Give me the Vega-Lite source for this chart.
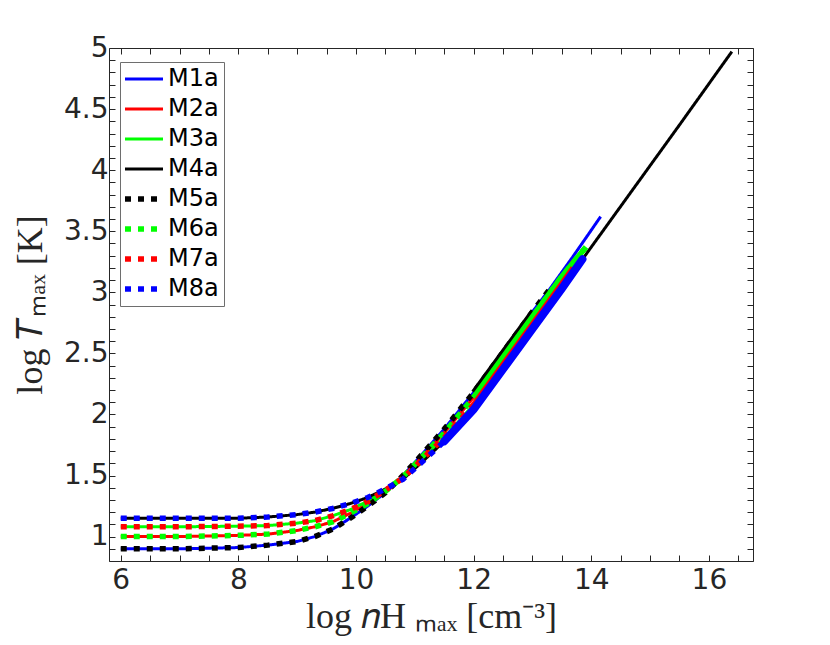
{
  "$schema": "https://vega.github.io/schema/vega-lite/v6.json",
  "width": 644,
  "height": 513,
  "autosize": "none",
  "padding": {"left": 109, "top": 48, "right": 77, "bottom": 84},
  "background": "white",
  "config": {
    "view": {"stroke": null},
    "axis": {
      "grid": false,
      "domainColor": "#262626",
      "domainWidth": 1,
      "tickColor": "#262626",
      "tickWidth": 1,
      "tickSize": -6,
      "labelFont": "DejaVu Sans",
      "labelFontSize": 28,
      "labelColor": "#262626",
      "labelFlush": false,
      "labelOverlap": false,
      "titleFont": "Liberation Serif",
      "titleFontSize": 36,
      "titleFontWeight": "normal",
      "titleColor": "#262626"
    }
  },
  "data": {
    "values": [
      {"model": "M1a", "logn": 6.0, "logT": 0.90}, {"model": "M1a", "logn": 6.5, "logT": 0.90}, {"model": "M1a", "logn": 7.0, "logT": 0.90}, {"model": "M1a", "logn": 7.5, "logT": 0.905}, {"model": "M1a", "logn": 8.0, "logT": 0.91}, {"model": "M1a", "logn": 8.5, "logT": 0.93}, {"model": "M1a", "logn": 9.0, "logT": 0.96}, {"model": "M1a", "logn": 9.3, "logT": 1.00}, {"model": "M1a", "logn": 9.6, "logT": 1.06}, {"model": "M1a", "logn": 9.9, "logT": 1.15}, {"model": "M1a", "logn": 10.2, "logT": 1.25}, {"model": "M1a", "logn": 10.5, "logT": 1.36}, {"model": "M1a", "logn": 10.8, "logT": 1.50}, {"model": "M1a", "logn": 11.1, "logT": 1.66}, {"model": "M1a", "logn": 11.5, "logT": 1.88}, {"model": "M1a", "logn": 12.0, "logT": 2.18}, {"model": "M1a", "logn": 12.5, "logT": 2.51}, {"model": "M1a", "logn": 13.0, "logT": 2.84}, {"model": "M1a", "logn": 13.3, "logT": 3.03}, {"model": "M1a", "logn": 13.7, "logT": 3.30}, {"model": "M1a", "logn": 14.16, "logT": 3.62},

      {"model": "M2a", "logn": 6.0, "logT": 1.00}, {"model": "M2a", "logn": 7.0, "logT": 1.00}, {"model": "M2a", "logn": 8.0, "logT": 1.01}, {"model": "M2a", "logn": 8.5, "logT": 1.02}, {"model": "M2a", "logn": 9.0, "logT": 1.05}, {"model": "M2a", "logn": 9.3, "logT": 1.08}, {"model": "M2a", "logn": 9.6, "logT": 1.12}, {"model": "M2a", "logn": 9.9, "logT": 1.19}, {"model": "M2a", "logn": 10.2, "logT": 1.27}, {"model": "M2a", "logn": 10.5, "logT": 1.37}, {"model": "M2a", "logn": 10.8, "logT": 1.49}, {"model": "M2a", "logn": 11.1, "logT": 1.64}, {"model": "M2a", "logn": 11.5, "logT": 1.85}, {"model": "M2a", "logn": 12.0, "logT": 2.14}, {"model": "M2a", "logn": 12.5, "logT": 2.47}, {"model": "M2a", "logn": 13.0, "logT": 2.80}, {"model": "M2a", "logn": 13.5, "logT": 3.13}, {"model": "M2a", "logn": 13.69, "logT": 3.26},

      {"model": "M3a", "logn": 6.0, "logT": 1.08}, {"model": "M3a", "logn": 7.0, "logT": 1.08}, {"model": "M3a", "logn": 8.0, "logT": 1.085}, {"model": "M3a", "logn": 8.5, "logT": 1.09}, {"model": "M3a", "logn": 9.0, "logT": 1.11}, {"model": "M3a", "logn": 9.3, "logT": 1.13}, {"model": "M3a", "logn": 9.6, "logT": 1.17}, {"model": "M3a", "logn": 9.9, "logT": 1.22}, {"model": "M3a", "logn": 10.2, "logT": 1.29}, {"model": "M3a", "logn": 10.5, "logT": 1.38}, {"model": "M3a", "logn": 10.8, "logT": 1.48}, {"model": "M3a", "logn": 11.1, "logT": 1.62}, {"model": "M3a", "logn": 11.5, "logT": 1.81}, {"model": "M3a", "logn": 12.0, "logT": 2.08}, {"model": "M3a", "logn": 12.5, "logT": 2.41}, {"model": "M3a", "logn": 13.0, "logT": 2.74}, {"model": "M3a", "logn": 13.5, "logT": 3.07}, {"model": "M3a", "logn": 13.75, "logT": 3.24},

      {"model": "M4a", "logn": 6.0, "logT": 1.15}, {"model": "M4a", "logn": 7.0, "logT": 1.15}, {"model": "M4a", "logn": 8.0, "logT": 1.15}, {"model": "M4a", "logn": 8.5, "logT": 1.16}, {"model": "M4a", "logn": 9.0, "logT": 1.18}, {"model": "M4a", "logn": 9.3, "logT": 1.20}, {"model": "M4a", "logn": 9.6, "logT": 1.23}, {"model": "M4a", "logn": 9.9, "logT": 1.27}, {"model": "M4a", "logn": 10.2, "logT": 1.32}, {"model": "M4a", "logn": 10.5, "logT": 1.39}, {"model": "M4a", "logn": 10.8, "logT": 1.47}, {"model": "M4a", "logn": 11.1, "logT": 1.60}, {"model": "M4a", "logn": 11.5, "logT": 1.78}, {"model": "M4a", "logn": 12.0, "logT": 2.04}, {"model": "M4a", "logn": 12.5, "logT": 2.37}, {"model": "M4a", "logn": 13.0, "logT": 2.70}, {"model": "M4a", "logn": 13.5, "logT": 3.03}, {"model": "M4a", "logn": 13.85, "logT": 3.27}, {"model": "M4a", "logn": 14.6, "logT": 3.77}, {"model": "M4a", "logn": 15.5, "logT": 4.37}, {"model": "M4a", "logn": 16.39, "logT": 4.97},

      {"model": "M5a", "logn": 6.0, "logT": 0.90}, {"model": "M5a", "logn": 6.5, "logT": 0.90}, {"model": "M5a", "logn": 7.0, "logT": 0.90}, {"model": "M5a", "logn": 7.5, "logT": 0.905}, {"model": "M5a", "logn": 8.0, "logT": 0.91}, {"model": "M5a", "logn": 8.5, "logT": 0.93}, {"model": "M5a", "logn": 9.0, "logT": 0.96}, {"model": "M5a", "logn": 9.3, "logT": 1.00}, {"model": "M5a", "logn": 9.6, "logT": 1.06}, {"model": "M5a", "logn": 9.9, "logT": 1.15}, {"model": "M5a", "logn": 10.2, "logT": 1.25}, {"model": "M5a", "logn": 10.5, "logT": 1.36}, {"model": "M5a", "logn": 10.8, "logT": 1.50}, {"model": "M5a", "logn": 11.1, "logT": 1.66}, {"model": "M5a", "logn": 11.5, "logT": 1.88}, {"model": "M5a", "logn": 12.0, "logT": 2.18}, {"model": "M5a", "logn": 12.5, "logT": 2.51}, {"model": "M5a", "logn": 13.0, "logT": 2.84}, {"model": "M5a", "logn": 13.3, "logT": 3.03},

      {"model": "M6a", "logn": 6.0, "logT": 1.00}, {"model": "M6a", "logn": 7.0, "logT": 1.00}, {"model": "M6a", "logn": 8.0, "logT": 1.01}, {"model": "M6a", "logn": 8.5, "logT": 1.02}, {"model": "M6a", "logn": 9.0, "logT": 1.05}, {"model": "M6a", "logn": 9.3, "logT": 1.08}, {"model": "M6a", "logn": 9.6, "logT": 1.12}, {"model": "M6a", "logn": 9.9, "logT": 1.19}, {"model": "M6a", "logn": 10.2, "logT": 1.27}, {"model": "M6a", "logn": 10.5, "logT": 1.37}, {"model": "M6a", "logn": 10.8, "logT": 1.49}, {"model": "M6a", "logn": 11.1, "logT": 1.64}, {"model": "M6a", "logn": 11.5, "logT": 1.85}, {"model": "M6a", "logn": 12.0, "logT": 2.14}, {"model": "M6a", "logn": 12.5, "logT": 2.47}, {"model": "M6a", "logn": 13.0, "logT": 2.80}, {"model": "M6a", "logn": 13.5, "logT": 3.13}, {"model": "M6a", "logn": 13.91, "logT": 3.37},

      {"model": "M7a", "logn": 6.0, "logT": 1.08}, {"model": "M7a", "logn": 7.0, "logT": 1.08}, {"model": "M7a", "logn": 8.0, "logT": 1.085}, {"model": "M7a", "logn": 8.5, "logT": 1.09}, {"model": "M7a", "logn": 9.0, "logT": 1.11}, {"model": "M7a", "logn": 9.3, "logT": 1.13}, {"model": "M7a", "logn": 9.6, "logT": 1.17}, {"model": "M7a", "logn": 9.9, "logT": 1.22}, {"model": "M7a", "logn": 10.2, "logT": 1.29}, {"model": "M7a", "logn": 10.5, "logT": 1.38}, {"model": "M7a", "logn": 10.8, "logT": 1.48}, {"model": "M7a", "logn": 11.1, "logT": 1.62}, {"model": "M7a", "logn": 11.5, "logT": 1.81}, {"model": "M7a", "logn": 12.0, "logT": 2.08}, {"model": "M7a", "logn": 12.5, "logT": 2.41}, {"model": "M7a", "logn": 13.0, "logT": 2.74}, {"model": "M7a", "logn": 13.5, "logT": 3.07}, {"model": "M7a", "logn": 13.69, "logT": 3.20},

      {"model": "M8a", "logn": 6.0, "logT": 1.15}, {"model": "M8a", "logn": 7.0, "logT": 1.15}, {"model": "M8a", "logn": 8.0, "logT": 1.15}, {"model": "M8a", "logn": 8.5, "logT": 1.16}, {"model": "M8a", "logn": 9.0, "logT": 1.18}, {"model": "M8a", "logn": 9.3, "logT": 1.20}, {"model": "M8a", "logn": 9.6, "logT": 1.23}, {"model": "M8a", "logn": 9.9, "logT": 1.27}, {"model": "M8a", "logn": 10.2, "logT": 1.32}, {"model": "M8a", "logn": 10.5, "logT": 1.39}, {"model": "M8a", "logn": 10.8, "logT": 1.47}, {"model": "M8a", "logn": 11.1, "logT": 1.60}, {"model": "M8a", "logn": 11.5, "logT": 1.78}, {"model": "M8a", "logn": 12.0, "logT": 2.04}, {"model": "M8a", "logn": 12.5, "logT": 2.37}, {"model": "M8a", "logn": 13.0, "logT": 2.70}, {"model": "M8a", "logn": 13.5, "logT": 3.03}, {"model": "M8a", "logn": 13.85, "logT": 3.27}
    ]
  },
  "layer": [
    {
      "transform": [{"filter": "indexof(['M1a','M2a','M3a','M4a'], datum.model) >= 0"}],
      "mark": {"type": "line", "strokeWidth": 3, "strokeCap": "butt"},
      "encoding": {
        "x": {
          "field": "logn", "type": "quantitative",
          "scale": {"domain": [5.8, 16.75], "nice": false, "zero": false},
          "axis": {
            "orient": "bottom",
            "values": [6, 6.5, 7, 7.5, 8, 8.5, 9, 9.5, 10, 10.5, 11, 11.5, 12, 12.5, 13, 13.5, 14, 14.5, 15, 15.5, 16, 16.5],
            "labelExpr": "datum.value % 2 == 0 ? format(datum.value, 'd') : ''",
            "labelPadding": 11,
            "title": "log 𝑛H ₘₐₓ [cm⁻³]",
            "titlePadding": 5
          }
        },
        "y": {
          "field": "logT", "type": "quantitative",
          "scale": {"domain": [0.8, 5], "nice": false, "zero": false},
          "axis": {
            "orient": "left",
            "values": [0.8, 0.9, 1, 1.1, 1.2, 1.3, 1.4, 1.5, 1.6, 1.7, 1.8, 1.9, 2, 2.1, 2.2, 2.3, 2.4, 2.5, 2.6, 2.7, 2.8, 2.9, 3, 3.1, 3.2, 3.3, 3.4, 3.5, 3.6, 3.7, 3.8, 3.9, 4, 4.1, 4.2, 4.3, 4.4, 4.5, 4.6, 4.7, 4.8, 4.9, 5],
            "labelExpr": "abs(datum.value * 2 - round(datum.value * 2)) < 0.001 ? format(datum.value, '~g') : ''",
            "labelPadding": 7,
            "title": "log 𝑇ₘₐₓ [K]",
            "titlePadding": 14
          }
        },
        "color": {
          "field": "model", "type": "nominal",
          "scale": {
            "domain": ["M1a", "M2a", "M3a", "M4a", "M5a", "M6a", "M7a", "M8a"],
            "range": ["#0000ff", "#ff0000", "#00ff00", "#000000", "#000000", "#00ff00", "#ff0000", "#0000ff"]
          },
          "legend": {
            "title": null,
            "orient": "none",
            "legendX": 11,
            "legendY": 14,
            "symbolType": "M-2.375,0H2.375",
            "symbolSize": 256,
            "symbolOffset": 7,
            "labelOffset": 12,
            "labelFont": "DejaVu Sans",
            "labelFontSize": 24,
            "labelColor": "#000000",
            "padding": 5,
            "rowPadding": 6,
            "fillColor": "#ffffff",
            "strokeColor": "#6e6e6e",
            "encode": {
              "symbols": {
                "update": {
                  "strokeWidth": {"signal": "indexof(['M5a','M6a','M7a','M8a'], datum.value) >= 0 ? 5.5 : 3"}
                }
              }
            }
          }
        },
        "strokeDash": {
          "field": "model", "type": "nominal",
          "scale": {
            "domain": ["M1a", "M2a", "M3a", "M4a", "M5a", "M6a", "M7a", "M8a"],
            "range": [[1, 0], [1, 0], [1, 0], [1, 0], [6, 7], [6, 7], [6, 7], [6, 7]]
          }
        }
      }
    },
    {
      "transform": [{"filter": "indexof(['M5a','M6a','M7a','M8a'], datum.model) >= 0"}],
      "mark": {"type": "line", "strokeWidth": 5.5, "strokeCap": "butt"},
      "encoding": {
        "x": {
          "field": "logn", "type": "quantitative",
          "axis": {
            "orient": "top",
            "values": [6, 6.5, 7, 7.5, 8, 8.5, 9, 9.5, 10, 10.5, 11, 11.5, 12, 12.5, 13, 13.5, 14, 14.5, 15, 15.5, 16, 16.5],
            "labels": false,
            "title": null
          }
        },
        "y": {
          "field": "logT", "type": "quantitative",
          "axis": {
            "orient": "right",
            "values": [0.8, 0.9, 1, 1.1, 1.2, 1.3, 1.4, 1.5, 1.6, 1.7, 1.8, 1.9, 2, 2.1, 2.2, 2.3, 2.4, 2.5, 2.6, 2.7, 2.8, 2.9, 3, 3.1, 3.2, 3.3, 3.4, 3.5, 3.6, 3.7, 3.8, 3.9, 4, 4.1, 4.2, 4.3, 4.4, 4.5, 4.6, 4.7, 4.8, 4.9, 5],
            "labels": false,
            "title": null
          }
        },
        "color": {"field": "model", "type": "nominal"},
        "strokeDash": {"field": "model", "type": "nominal"}
      }
    },
    {
      "transform": [{"filter": "((datum.model == 'M6a' || datum.model == 'M7a') && datum.logn >= 12) || (datum.model == 'M5a' && datum.logn >= 12 && datum.logn <= 13)"}],
      "mark": {"type": "line", "strokeWidth": 5.5, "strokeCap": "butt"},
      "encoding": {
        "x": {"field": "logn", "type": "quantitative", "axis": null},
        "y": {"field": "logT", "type": "quantitative", "axis": null},
        "color": {"field": "model", "type": "nominal"}
      }
    },
    {
      "transform": [{"filter": "datum.model == 'M8a' && datum.logn >= 11.5"}],
      "mark": {"type": "line", "strokeWidth": 8, "strokeCap": "round"},
      "encoding": {
        "x": {"field": "logn", "type": "quantitative", "axis": null},
        "y": {"field": "logT", "type": "quantitative", "axis": null},
        "color": {"field": "model", "type": "nominal"}
      }
    }
  ],
  "resolve": {"axis": {"x": "independent", "y": "independent"}}
}
